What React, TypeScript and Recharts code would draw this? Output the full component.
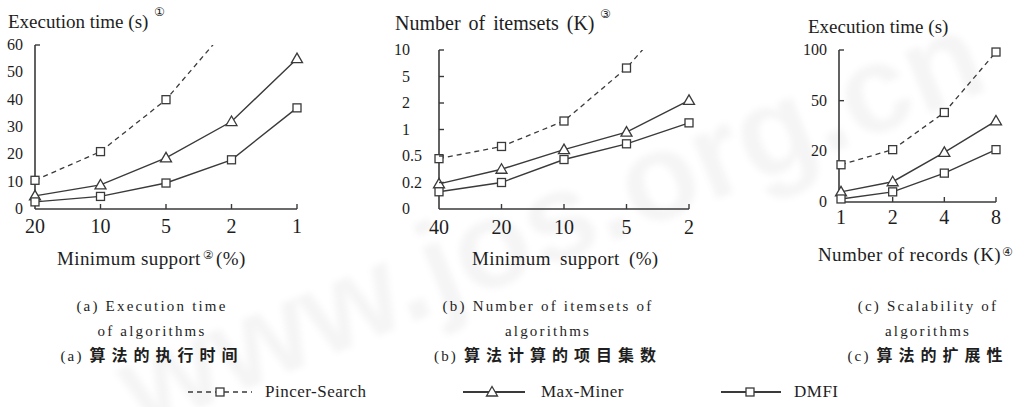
import { LineChart, Line, XAxis, YAxis } from 'recharts'

// (a) execution time vs minimum support
const supportA = ['20', '10', '5', '2', '1']
const pincerA = [10.5, 21, 40, 68, 125]
const maxMinerA = [4.8, 8.8, 18.7, 32, 55]
const dmfiA = [2.6, 4.6, 9.5, 18, 37]
const ticksA = [0, 10, 20, 30, 40, 50, 60]

// (b) number of itemsets (K) vs minimum support
const supportB = ['40', '20', '10', '5', '2']
const pincerB = [0.47, 0.68, 1.32, 6.6, 20]
const maxMinerB = [0.19, 0.35, 0.62, 0.95, 2.3]
const dmfiB = [0.13, 0.2, 0.46, 0.73, 1.25]
const ticksB = [0, 0.2, 0.5, 1, 2, 5, 10]

// (c) execution time vs number of records (K)
const recordsC = ['1', '2', '4', '8']
const pincerC = [14.7, 21, 43, 98]
const maxMinerC = [4, 8, 19.6, 38]
const dmfiC = [1.2, 4, 11.4, 21]
const ticksC = [0, 20, 50, 100]

const SERIF = '"Liberation Serif", "DejaVu Serif", "Noto Serif", serif'
const CJK = '"Noto Sans CJK SC", sans-serif'
const INK = '#1e1e1e'
const LINE = '#3a3a3a'

// the (b) and (c) axes space their labelled ticks evenly, so values are placed
// piecewise between neighbouring ticks
function tickRank(v: number, ticks: number[]) {
  for (let i = 0; i < ticks.length - 1; i++) {
    if (v <= ticks[i + 1]) return i + (v - ticks[i]) / (ticks[i + 1] - ticks[i])
  }
  const n = ticks.length - 1
  return n + (v - ticks[n]) / (ticks[n] - ticks[n - 1])
}

function Square(props: any) {
  const { cx, cy } = props
  if (cx == null || cy == null) return null
  return <rect key={props.key} x={cx - 4} y={cy - 4} width={8} height={8} fill="#fff" stroke={LINE} strokeWidth={1.3} />
}

function Triangle(props: any) {
  const { cx, cy } = props
  if (cx == null || cy == null) return null
  return (
    <polygon
      key={props.key}
      points={`${cx},${cy - 5.5} ${cx - 5.5},${cy + 4} ${cx + 5.5},${cy + 4}`}
      fill="#fff"
      stroke={LINE}
      strokeWidth={1.3}
    />
  )
}

const yTick = (gap: number, marked: (v: number) => boolean, labels?: number[]) => (p: any) => {
  const v = p.payload.value
  const text = labels ? String(labels[v]) : String(v)
  const [whole, frac] = text.split('.')
  return (
    <g>
      {marked(v) && <line x1={p.x} y1={p.y} x2={p.x + 5} y2={p.y} stroke={LINE} strokeWidth={1.4} />}
      <text x={p.x - gap} y={p.y} dy={5} textAnchor="end" fontFamily={SERIF} fontSize={16} fill={INK}>
        {whole}
      </text>
      {frac && (
        <text x={p.x - gap} y={p.y} dy={5} textAnchor="start" fontFamily={SERIF} fontSize={16} fill={INK}>
          .{frac}
        </text>
      )}
    </g>
  )
}

const xTick = (offset: number) => (p: any) => (
  <g>
    {p.index > 0 && <line x1={p.x} y1={p.y} x2={p.x} y2={p.y - 5} stroke={LINE} strokeWidth={1.4} />}
    <text x={p.x} y={p.y + offset} dy={7} textAnchor="middle" fontFamily={SERIF} fontSize={20} fill={INK}>
      {p.payload.value}
    </text>
  </g>
)

const axisLine = { stroke: LINE, strokeWidth: 1.6 }

interface PanelProps {
  rows: any[]
  top: number
  yTicks: number[]
  yDomain: [number, number]
  yWidth: number
  tickGap: number
  labelOffset: number
  marked: (v: number) => boolean
  tickLabels?: number[]
  width: number
  height: number
  margin: { top: number; right: number; bottom: number; left: number }
  padLeft?: number
}

function Panel(props: PanelProps) {
  const { rows, top, yTicks, yDomain } = props
  return (
    <LineChart width={props.width} height={props.height} data={rows} margin={props.margin}>
      <XAxis
        dataKey="k"
        height={30}
        interval={0}
        axisLine={axisLine}
        tickLine={false}
        tickSize={0}
        tickMargin={0}
        padding={{ left: props.padLeft ?? 0, right: 0 }}
        tick={xTick(props.labelOffset)}
      />
      <YAxis
        type="number"
        domain={yDomain}
        ticks={yTicks}
        interval={0}
        width={props.yWidth}
        axisLine={axisLine}
        tickLine={false}
        tickSize={0}
        tickMargin={0}
        tick={yTick(props.tickGap, props.marked, props.tickLabels)}
      />
      <YAxis yAxisId="clip" type="number" hide domain={yDomain} allowDataOverflow />
      <Line
        yAxisId="clip"
        dataKey="pincer"
        stroke={LINE}
        strokeWidth={1.3}
        strokeDasharray="5 4"
        dot={false}
        isAnimationActive={false}
      />
      <Line
        dataKey={(d: any) => (d.pincer <= top ? d.pincer : null)}
        stroke="none"
        dot={Square}
        isAnimationActive={false}
      />
      <Line dataKey="maxMiner" stroke={LINE} strokeWidth={1.4} dot={Triangle} isAnimationActive={false} />
      <Line dataKey="dmfi" stroke={LINE} strokeWidth={1.4} dot={Square} isAnimationActive={false} />
    </LineChart>
  )
}

const rowsA = supportA.map((k, i) => ({ k, pincer: pincerA[i], maxMiner: maxMinerA[i], dmfi: dmfiA[i] }))
const rowsB = supportB.map((k, i) => ({
  k,
  pincer: tickRank(pincerB[i], ticksB),
  maxMiner: tickRank(maxMinerB[i], ticksB),
  dmfi: tickRank(dmfiB[i], ticksB),
}))
const rowsC = recordsC.map((k, i) => ({
  k,
  pincer: tickRank(pincerC[i], ticksC),
  maxMiner: tickRank(maxMinerC[i], ticksC),
  dmfi: tickRank(dmfiC[i], ticksC),
}))

const abs = (left: number, top: number, extra: any = {}) => ({
  position: 'absolute' as const,
  left,
  top,
  whiteSpace: 'nowrap' as const,
  lineHeight: 1,
  color: INK,
  ...extra,
})

function Caption({ center, lines, cjk }: { center: number; lines: string[]; cjk: [string, string] }) {
  const box = { width: 320, textAlign: 'center' as const, fontFamily: SERIF, fontSize: 15, letterSpacing: 2.2 }
  return (
    <>
      <div style={abs(center - 160, 299, box)}>{lines[0]}</div>
      <div style={abs(center - 160, 324, box)}>{lines[1]}</div>
      <div style={abs(center - 160, 346, box)}>
        <span>{cjk[0]} </span>
        <span style={{ fontFamily: CJK, fontSize: 16, fontWeight: 600, letterSpacing: 6 }}>{cjk[1]}</span>
      </div>
    </>
  )
}

export default function App() {
  const title = { fontFamily: SERIF, fontSize: 19 }
  const label = { fontFamily: SERIF, fontSize: 19, letterSpacing: 0.4 }
  const circled = { fontFamily: '"DejaVu Sans", sans-serif', fontSize: 12 }
  const legendText = { fontFamily: SERIF, fontSize: 17, fill: INK, letterSpacing: 0.5 }
  return (
    <div style={{ position: 'absolute', left: 0, top: 0, width: 1029, height: 407, background: '#fff', overflow: 'hidden' }}>
      <div
        style={abs(-20, 150, {
          width: 1140,
          textAlign: 'center',
          fontFamily: '"Liberation Sans", sans-serif',
          fontWeight: 'bold',
          fontSize: 125,
          lineHeight: '140px',
          color: 'rgba(0,0,0,0.04)',
          transform: 'rotate(-22deg)',
          filter: 'blur(3px)',
        })}
      >
        www.jos.org.cn
      </div>

      <div style={abs(8, 12, title)}>Execution time (s)</div>
      <div style={abs(154, 6, circled)}>①</div>
      <div style={abs(395, 13, { ...title, fontSize: 20, wordSpacing: 3 })}>Number of itemsets (K)</div>
      <div style={abs(600, 8, circled)}>③</div>
      <div style={abs(808, 17, title)}>Execution time (s)</div>

      <div style={{ position: 'absolute', left: 0, top: 0 }}>
        <Panel
          rows={rowsA}
          top={60}
          yTicks={ticksA}
          yDomain={[0, 60]}
          yWidth={35}
          tickGap={12}
          labelOffset={17}
          marked={(v) => v === 60}
          width={320}
          height={240}
          margin={{ top: 45, right: 23, bottom: 1, left: 0 }}
        />
      </div>
      <div style={{ position: 'absolute', left: 330, top: 0 }}>
        <Panel
          rows={rowsB}
          top={6}
          yTicks={[0, 1, 2, 3, 4, 5, 6]}
          yDomain={[0, 6]}
          yWidth={109}
          tickGap={29}
          labelOffset={18}
          marked={(v) => v > 0}
          tickLabels={ticksB}
          width={370}
          height={240}
          margin={{ top: 50, right: 11, bottom: 1, left: 0 }}
        />
      </div>
      <div style={{ position: 'absolute', left: 720, top: 0 }}>
        <Panel
          rows={rowsC}
          top={3}
          yTicks={[0, 1, 2, 3]}
          yDomain={[0, 3]}
          yWidth={119}
          tickGap={12}
          labelOffset={15}
          marked={(v) => v === 3 || v === 2}
          tickLabels={ticksC}
          width={309}
          height={240}
          margin={{ top: 50, right: 33, bottom: 8, left: 0 }}
          padLeft={2}
        />
      </div>

      <div style={abs(57, 249, label)}>
        Minimum support<span style={{ ...circled, position: 'relative', top: -6, margin: '0 2px' }}>②</span>(%)
      </div>
      <div style={abs(472, 249, { ...label, wordSpacing: 4 })}>Minimum support (%)</div>
      <div style={abs(818, 245, label)}>
        Number of records (K)<span style={{ ...circled, position: 'relative', top: -5, marginLeft: 1 }}>④</span>
      </div>

      <Caption center={152} lines={['(a)  Execution time', 'of algorithms']} cjk={['(a)', '算法的执行时间']} />
      <Caption center={548} lines={['(b) Number of itemsets of', 'algorithms']} cjk={['(b)', '算法计算的项目集数']} />
      <Caption center={928} lines={['(c) Scalability of', 'algorithms']} cjk={['(c)', '算法的扩展性']} />

      <svg style={{ position: 'absolute', left: 0, top: 370 }} width={1029} height={37}>
        <line x1={188} y1={22} x2={252} y2={22} stroke={LINE} strokeWidth={1.4} strokeDasharray="5 4" />
        <Square cx={220} cy={22} />
        <text x={265} y={27} {...legendText}>
          Pincer-Search
        </text>
        <line x1={463} y1={22} x2={525} y2={22} stroke={LINE} strokeWidth={1.8} />
        <Triangle cx={492} cy={22} />
        <text x={541} y={27} {...legendText}>
          Max-Miner
        </text>
        <line x1={721} y1={22} x2={781} y2={22} stroke={LINE} strokeWidth={2.2} />
        <Square cx={750} cy={22} />
        <text x={794} y={27} {...legendText}>
          DMFI
        </text>
      </svg>
    </div>
  )
}
